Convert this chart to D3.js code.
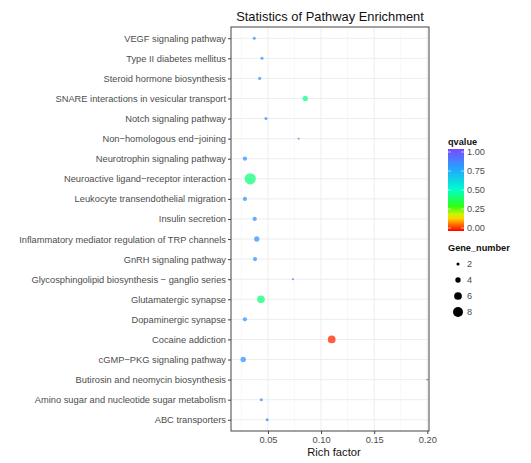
<!DOCTYPE html>
<html>
<head>
<meta charset="utf-8">
<script src="https://cdn.jsdelivr.net/npm/d3@7"></script>
<style>
  html, body { margin: 0; padding: 0; background: #fff; }
  svg { display: block; font-family: "Liberation Sans", Arial, sans-serif; }
</style>
</head>
<body>
<svg id="chart" width="531" height="463"></svg>
<script>
// Pathways, top to bottom
const pathways = [
  "VEGF signaling pathway",
  "Type II diabetes mellitus",
  "Steroid hormone biosynthesis",
  "SNARE interactions in vesicular transport",
  "Notch signaling pathway",
  "Non\u2212homologous end\u2212joining",
  "Neurotrophin signaling pathway",
  "Neuroactive ligand\u2212receptor interaction",
  "Leukocyte transendothelial migration",
  "Insulin secretion",
  "Inflammatory mediator regulation of TRP channels",
  "GnRH signaling pathway",
  "Glycosphingolipid biosynthesis \u2212 ganglio series",
  "Glutamatergic synapse",
  "Dopaminergic synapse",
  "Cocaine addiction",
  "cGMP\u2212PKG signaling pathway",
  "Butirosin and neomycin biosynthesis",
  "Amino sugar and nucleotide sugar metabolism",
  "ABC transporters"
];
const richFactor = [0.0371, 0.0444, 0.0422, 0.0851, 0.0481, 0.0789, 0.0283, 0.0333, 0.0283, 0.0375,
                    0.0394, 0.0378, 0.0735, 0.0434, 0.0283, 0.1100, 0.0267, 0.2000, 0.0437, 0.0493];
const qvalue     = [0.80, 0.80, 0.80, 0.43, 0.80, 0.95, 0.80, 0.42, 0.80, 0.80,
                    0.80, 0.80, 0.95, 0.42, 0.80, 0.03, 0.80, 0.95, 0.80, 0.80];
const geneNumber = [2, 2, 2, 4, 2, 1, 3, 9, 3, 3,
                    4, 3, 1, 6, 3, 6, 4, 1, 2, 2];
const xTicks = [0.05, 0.10, 0.15, 0.20];
const qTicks = [0, 0.25, 0.5, 0.75, 1];
const sizeLegend = [2, 4, 6, 8];

const rows = pathways.map((p, i) => ({
  name: p, rich: richFactor[i], q: qvalue[i], genes: geneNumber[i]
}));

const svg = d3.select("#chart");
const panel = { left: 231, right: 429, top: 27, bottom: 431 };
const FONT = "'Liberation Sans', Arial, sans-serif";

const x = d3.scaleLinear().domain([0.0152, 0.2016]).range([panel.left, panel.right]);
const y = d3.scalePoint().domain(pathways).range([panel.top, panel.bottom]).padding(0.56);
const color = d3.scaleLinear()
  .domain([0, 0.17, 0.3, 0.5, 0.75, 1])
  .range(["#ff0000", "#ffee00", "#30ff10", "#00ffc8", "#20a8ff", "#7a48ff"])
  .interpolate(d3.interpolateRgb);
const radius = d3.scaleLinear().domain([1, 9]).range([0.95, 5.6]);

// panel background and grid
svg.append("rect")
  .attr("x", panel.left).attr("y", panel.top)
  .attr("width", panel.right - panel.left).attr("height", panel.bottom - panel.top)
  .attr("fill", "#fff");

const minorTicks = [0.025, 0.075, 0.125, 0.175];
svg.append("g").selectAll("line").data(minorTicks).join("line")
  .attr("x1", d => x(d)).attr("x2", d => x(d))
  .attr("y1", panel.top).attr("y2", panel.bottom)
  .attr("stroke", "#f4f4f4").attr("stroke-width", 0.6);
svg.append("g").selectAll("line").data(xTicks).join("line")
  .attr("x1", d => x(d)).attr("x2", d => x(d))
  .attr("y1", panel.top).attr("y2", panel.bottom)
  .attr("stroke", "#ebebeb").attr("stroke-width", 0.9);
svg.append("g").selectAll("line").data(pathways).join("line")
  .attr("x1", panel.left).attr("x2", panel.right)
  .attr("y1", d => y(d)).attr("y2", d => y(d))
  .attr("stroke", "#ebebeb").attr("stroke-width", 0.9);

// points
svg.append("g").selectAll("circle").data(rows).join("circle")
  .attr("cx", d => x(d.rich))
  .attr("cy", d => y(d.name))
  .attr("r", d => radius(d.genes))
  .attr("fill", d => color(d.q))
  .attr("fill-opacity", 0.75);

// panel border
svg.append("rect")
  .attr("x", panel.left).attr("y", panel.top)
  .attr("width", panel.right - panel.left).attr("height", panel.bottom - panel.top)
  .attr("fill", "none").attr("stroke", "#444").attr("stroke-width", 1);

// axes
const yAxis = svg.append("g")
  .attr("transform", `translate(${panel.left},0)`)
  .call(d3.axisLeft(y).tickSize(3).tickPadding(2));
const xAxis = svg.append("g")
  .attr("transform", `translate(0,${panel.bottom})`)
  .call(d3.axisBottom(x).tickValues(xTicks).tickFormat(d3.format(".2f")).tickSize(3).tickPadding(2));
[yAxis, xAxis].forEach(a => {
  a.select(".domain").remove();
  a.selectAll(".tick line").attr("stroke", "#444");
  a.selectAll("text").attr("fill", "#4d4d4d").attr("font-size", 9.3).attr("font-family", FONT);
});

// titles
svg.append("text")
  .attr("x", (panel.left + panel.right) / 2).attr("y", 21)
  .attr("text-anchor", "middle").attr("font-size", 12.9).attr("fill", "#111")
  .text("Statistics of Pathway Enrichment");
svg.append("text")
  .attr("x", (panel.left + panel.right) / 2 + 4).attr("y", 456)
  .attr("text-anchor", "middle").attr("font-size", 11.2).attr("fill", "#111")
  .text("Rich factor");

// colour legend
const bar = { x: 448, y: 149, w: 16, h: 82 };
const defs = svg.append("defs");
const grad = defs.append("linearGradient").attr("id", "qgrad")
  .attr("x1", 0).attr("y1", 1).attr("x2", 0).attr("y2", 0);
d3.range(0, 1.0001, 0.05).forEach(t => {
  grad.append("stop").attr("offset", t).attr("stop-color", color(t));
});
svg.append("text").attr("x", bar.x).attr("y", bar.y - 4)
  .attr("font-size", 9.2).attr("font-weight", "bold").attr("fill", "#111").text("qvalue");
svg.append("rect").attr("x", bar.x).attr("y", bar.y).attr("width", bar.w).attr("height", bar.h)
  .attr("fill", "url(#qgrad)");
const qy = d3.scaleLinear().domain([0, 1]).range([228, 152]);
svg.append("g").selectAll("line").data(qTicks).join("line")
  .attr("x1", bar.x).attr("x2", bar.x + 3)
  .attr("y1", d => qy(d)).attr("y2", d => qy(d)).attr("stroke", "#fff").attr("stroke-opacity", 0.6);
svg.append("g").selectAll("line").data(qTicks).join("line")
  .attr("x1", bar.x + bar.w - 3).attr("x2", bar.x + bar.w)
  .attr("y1", d => qy(d)).attr("y2", d => qy(d)).attr("stroke", "#fff").attr("stroke-opacity", 0.6);
svg.append("g").selectAll("text").data(qTicks).join("text")
  .attr("x", bar.x + bar.w + 3).attr("y", d => qy(d)).attr("dy", "0.35em")
  .attr("font-size", 9.2).attr("fill", "#4d4d4d")
  .text(d => d3.format(".2f")(d));

// size legend
svg.append("text").attr("x", 448).attr("y", 251)
  .attr("font-size", 9.2).attr("font-weight", "bold").attr("fill", "#111").text("Gene_number");
const sy = d3.scalePoint().domain(sizeLegend).range([264, 312]);
svg.append("g").selectAll("circle").data(sizeLegend).join("circle")
  .attr("cx", 458).attr("cy", d => sy(d)).attr("r", d => radius(d)).attr("fill", "#000");
svg.append("g").selectAll("text").data(sizeLegend).join("text")
  .attr("x", 467).attr("y", d => sy(d)).attr("dy", "0.35em")
  .attr("font-size", 9.2).attr("fill", "#4d4d4d").text(d => d);
</script>
</body>
</html>
